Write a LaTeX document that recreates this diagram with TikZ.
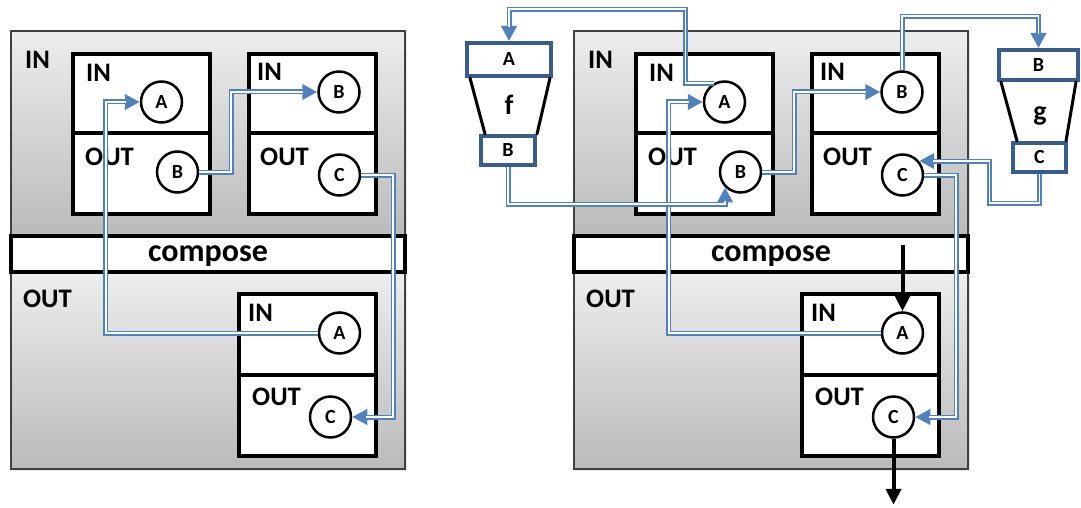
\documentclass[tikz,border=0pt]{standalone}
\usepackage{fontspec}
\setmainfont{Carlito}
\usetikzlibrary{positioning,arrows.meta,shadows}

\definecolor{wireblue}{RGB}{79,129,189}
\definecolor{fnblue}{RGB}{56,93,138}

\begin{document}
\begin{tikzpicture}[
            x=1pt, y=-1pt,
            panel/.style={draw=black!75, line width=2pt, rectangle, top color=black!7, bottom color=black!27, minimum width=394pt},
            bar/.style={draw=black, line width=4pt, rectangle, fill=white, minimum width=394pt, minimum height=36pt, text depth=0pt, font=\fontsize{32}{32}\bfseries},
            cell/.style={draw=black, line width=4pt, rectangle, fill=white},
            port/.style={draw=black, line width=2.5pt, circle, fill=white, minimum size=41pt, inner sep=0pt, font=\fontsize{20}{20}\bfseries},
            lbl/.style={anchor=west, inner sep=0pt, font=\fontsize{26.7}{26.7}\bfseries},
            fnport/.style={draw=fnblue, line width=4pt, rectangle, fill=white, inner sep=0pt, font=\fontsize{20}{20}\bfseries},
            fnside/.style={line width=3pt, line cap=round},
            fnname/.style={anchor=base, inner sep=0pt, font=\fontsize{28}{28}\bfseries},
            wirearrow/.style={draw=wireblue, line width=5pt, -{Triangle[length=15pt, width=15pt]},
                postaction={draw=white, line width=1.7pt, -, shorten >=14pt}},
            flow/.style={line width=4pt, -{Triangle[length=16pt, width=15pt]}}
        ]
        \useasboundingbox (0,0) rectangle (1081,508);

        % linke Seite
        \node[panel, minimum height=205pt, drop shadow={opacity=0.2, shadow xshift=2pt, shadow yshift=-2pt}] (topL) at (208,133.5) {};
        \node[panel, minimum height=197pt, drop shadow={opacity=0.2, shadow xshift=2pt, shadow yshift=-2pt}] (botL) at (208,370.5) {};
        \node[bar] (compL) at (208,254) {compose};
        \node[lbl] (inL) at (25,60) {IN};
        \node[lbl] (outL) at (23,299) {OUT};

        \node[cell, minimum width=137pt, minimum height=79pt] (inL1) at (141.5,93.5) {};
        \node[cell, minimum width=137pt, minimum height=81pt] (outL1) at (141.5,173.5) {};
        \node[cell, minimum width=127pt, minimum height=79pt] (inL2) at (312.5,93.5) {};
        \node[cell, minimum width=127pt, minimum height=81pt] (outL2) at (312.5,173.5) {};
        \node[cell, minimum width=137pt, minimum height=81pt] (inL3) at (307.5,334.5) {};
        \node[cell, minimum width=137pt, minimum height=81pt] (outL3) at (307.5,415.5) {};

        \node[lbl] (inL1t) at (86,73) {IN};
        \node[lbl] (outL1t) at (85,157) {OUT};
        \node[lbl] (inL2t) at (257,72) {IN};
        \node[lbl] (outL2t) at (260,157) {OUT};
        \node[lbl] (inL3t) at (248,313) {IN};
        \node[lbl] (outL3t) at (252,397) {OUT};

        \node[port] (aL1) at (161.5,102) {A};
        \node[port] (bL1) at (177.5,172) {B};
        \node[port] (bL2) at (339,92) {B};
        \node[port] (cL2) at (339.5,175) {C};
        \node[port] (aL3) at (339.5,333) {A};
        \node[port] (cL3) at (330.5,417) {C};

        \draw[wirearrow] (aL3.west) -- ++(-212,0) |- (aL1.west);
        \draw[wirearrow] (bL1.east) -- ++(32,0) |- (bL2.west);
        \draw[wirearrow] (cL2.east) -- ++(32,0) |- (cL3.east);

        % rechte Seite
        \node[panel, minimum height=205pt, drop shadow={opacity=0.2, shadow xshift=2pt, shadow yshift=-2pt}] (topR) at (771,133.5) {};
        \node[panel, minimum height=197pt, drop shadow={opacity=0.2, shadow xshift=2pt, shadow yshift=-2pt}] (botR) at (771,370.5) {};
        \node[bar] (compR) at (771,254) {compose};
        \node[lbl] (inR) at (588,60) {IN};
        \node[lbl] (outR) at (586,299) {OUT};

        \node[cell, minimum width=137pt, minimum height=79pt] (inR1) at (704.5,93.5) {};
        \node[cell, minimum width=137pt, minimum height=81pt] (outR1) at (704.5,173.5) {};
        \node[cell, minimum width=127pt, minimum height=79pt] (inR2) at (875.5,93.5) {};
        \node[cell, minimum width=127pt, minimum height=81pt] (outR2) at (875.5,173.5) {};
        \node[cell, minimum width=137pt, minimum height=81pt] (inR3) at (870.5,334.5) {};
        \node[cell, minimum width=137pt, minimum height=81pt] (outR3) at (870.5,415.5) {};

        \node[lbl] (inR1t) at (649,73) {IN};
        \node[lbl] (outR1t) at (648,157) {OUT};
        \node[lbl] (inR2t) at (820,72) {IN};
        \node[lbl] (outR2t) at (823,157) {OUT};
        \node[lbl] (inR3t) at (811,313) {IN};
        \node[lbl] (outR3t) at (815,397) {OUT};

        \node[port] (aR1) at (724.5,102) {A};
        \node[port] (bR1) at (740.5,172) {B};
        \node[port] (bR2) at (902,92) {B};
        \node[port] (cR2) at (902.5,175) {C};
        \node[port] (aR3) at (902.5,333) {A};
        \node[port] (cR3) at (893.5,417) {C};

        % Funktionen f und g
        \node[fnport, minimum width=84pt, minimum height=33pt] (fA) at (509,59.5) {A};
        \node[fnport, minimum width=54pt, minimum height=29pt] (fB) at (508,150.5) {B};
        \node[fnname] (fname) at (509,115) {f};
        \draw[fnside] ([xshift=5pt]fA.south west) -- ([xshift=6pt]fB.north west);
        \draw[fnside] ([xshift=-3pt]fA.south east) -- (fB.north east);

        \node[fnport, minimum width=79pt, minimum height=30pt] (gB) at (1038.5,65) {B};
        \node[fnport, minimum width=53pt, minimum height=29pt] (gC) at (1039.5,157.5) {C};
        \node[fnname] (gname) at (1040,121) {g};
        \draw[fnside] ([xshift=4pt]gB.south west) -- ([xshift=6pt]gC.north west);
        \draw[fnside] ([xshift=-4pt]gB.south east) -- ([xshift=-2pt]gC.north east);

        % Kanten
        \draw[wirearrow] (aR3.west) -- ++(-212,0) |- (aR1.west);
        \draw[wirearrow] (bR1.east) -- ++(32,0) |- (bR2.west);
        \draw[wirearrow] (cR2.east) -- ++(32,0) |- (cR3.east);
        \draw[wirearrow] (aR1.120) -- ++(-28,0) -- ++(0,-74) -| (fA.north);
        \draw[wirearrow] (fB.south) -- ++(0,37) -| (bR1.south west);
        \draw[wirearrow] (bR2.north) -- ++(0,-54) -| (gB.north);
        \draw[wirearrow] (gC.south) -- ++(0,29) -- ++(-50,0) |- (cR2.40);

        \coordinate (feed) at (aR3.north |- compR.center);
        \coordinate (sink) at ([yshift=-66pt]cR3.south);
        \draw[flow] (feed) ++(0,-9) -- (aR3.north);
        \draw[flow] (cR3.south) -- (sink);

    \end{tikzpicture}
\end{document}
